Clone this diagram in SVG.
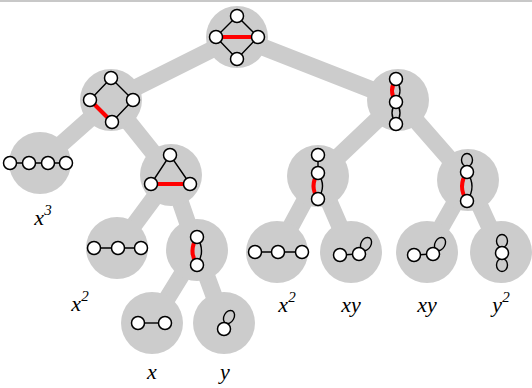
<svg xmlns="http://www.w3.org/2000/svg" width="532" height="388" viewBox="0 0 532 388">
<style>
.bg{fill:#cccccc}
.c{stroke:#cccccc;stroke-width:17;stroke-linecap:round;fill:none}
.e{stroke:#000;stroke-width:1.4;fill:none}
.r{stroke:#ff0000;stroke-width:4;fill:none}
.v{fill:#fff;stroke:#000;stroke-width:1.5}
.lb{font-family:"Liberation Serif","Times New Roman",serif;font-style:italic;font-size:22px;text-anchor:middle;fill:#000}
.sp{font-size:15px}
</style>
<rect x="0" y="0" width="532" height="388" fill="#fff"/>
<rect x="0" y="0" width="532" height="2" fill="#c8c8c8"/>
<g id="connectors">
<line class="c" x1="237" y1="37" x2="111" y2="100"/>
<line class="c" x1="237" y1="37" x2="398" y2="100"/>
<line class="c" x1="111" y1="100" x2="40" y2="163"/>
<line class="c" x1="111" y1="100" x2="171" y2="175"/>
<line class="c" x1="171" y1="175" x2="117" y2="248"/>
<line class="c" x1="171" y1="175" x2="197" y2="250"/>
<line class="c" x1="197" y1="250" x2="152" y2="323"/>
<line class="c" x1="197" y1="250" x2="224" y2="323"/>
<line class="c" x1="398" y1="100" x2="318" y2="176"/>
<line class="c" x1="398" y1="100" x2="468" y2="180"/>
<line class="c" x1="318" y1="176" x2="277" y2="252"/>
<line class="c" x1="318" y1="176" x2="351" y2="252"/>
<line class="c" x1="468" y1="180" x2="427" y2="252"/>
<line class="c" x1="468" y1="180" x2="501" y2="252"/>
</g>
<g id="root">
<circle class="bg" cx="237" cy="37" r="31"/>
<path class="e" d="M237,16 L216,37 L237,59 L258,37 Z"/>
<line class="r" x1="216" y1="37" x2="258" y2="37"/>
<circle class="v" cx="237" cy="16" r="6.5"/><circle class="v" cx="216" cy="37" r="6.5"/><circle class="v" cx="258" cy="37" r="6.5"/><circle class="v" cx="237" cy="59" r="6.5"/>
</g>
<g id="nodeA">
<circle class="bg" cx="111" cy="100" r="31"/>
<path class="e" d="M90,100 L111,78 L133,100 L112,122"/>
<line class="r" x1="90" y1="100" x2="112" y2="122"/>
<circle class="v" cx="111" cy="78" r="6.5"/><circle class="v" cx="90" cy="100" r="6.5"/><circle class="v" cx="133" cy="100" r="6.5"/><circle class="v" cx="112" cy="122" r="6.5"/>
</g>
<g id="nodeB">
<circle class="bg" cx="398" cy="100" r="31"/>
<path class="r" d="M396,79 Q388,90.5 396,102"/>
<path class="e" d="M396,79 Q404,90.5 396,102"/>
<path class="e" d="M396,102 Q388,113 396,124 Q404,113 396,102"/>
<circle class="v" cx="396" cy="79" r="6.5"/><circle class="v" cx="396" cy="102" r="6.5"/><circle class="v" cx="396" cy="124" r="6.5"/>
</g>
<g id="leafX3">
<circle class="bg" cx="40" cy="163" r="31"/>
<line class="e" x1="10" y1="163" x2="66" y2="163"/>
<circle class="v" cx="10" cy="163" r="6.5"/><circle class="v" cx="29" cy="163" r="6.5"/><circle class="v" cx="48" cy="163" r="6.5"/><circle class="v" cx="66" cy="163" r="6.5"/>
<text class="lb" x="43" y="225">x<tspan class="sp" dy="-10">3</tspan></text>
</g>
<g id="nodeC">
<circle class="bg" cx="171" cy="175" r="31"/>
<path class="e" d="M151,184 L170,155 L190,184"/>
<line class="r" x1="151" y1="184" x2="190" y2="184"/>
<circle class="v" cx="170" cy="155" r="6.5"/><circle class="v" cx="151" cy="184" r="6.5"/><circle class="v" cx="190" cy="184" r="6.5"/>
</g>
<g id="nodeD">
<circle class="bg" cx="318" cy="176" r="31"/>
<line class="e" x1="318" y1="155" x2="318" y2="173"/>
<path class="r" d="M318,173 Q309,186 318,199"/>
<path class="e" d="M318,173 Q327,186 318,199"/>
<circle class="v" cx="318" cy="155" r="6.5"/><circle class="v" cx="318" cy="173" r="6.5"/><circle class="v" cx="318" cy="199" r="6.5"/>
</g>
<g id="nodeE">
<circle class="bg" cx="468" cy="180" r="31"/>
<ellipse class="e" cx="467" cy="160" rx="5.5" ry="6.5"/>
<path class="r" d="M467,172 Q457,186.5 467,201"/>
<path class="e" d="M467,172 Q477,186.5 467,201"/>
<circle class="v" cx="467" cy="172" r="6.5"/><circle class="v" cx="467" cy="201" r="6.5"/>
</g>
<g id="leafX2a">
<circle class="bg" cx="117" cy="248" r="31"/>
<line class="e" x1="94" y1="248" x2="141" y2="248"/>
<circle class="v" cx="94" cy="248" r="6.5"/><circle class="v" cx="118" cy="248" r="6.5"/><circle class="v" cx="141" cy="248" r="6.5"/>
<text class="lb" x="80" y="311">x<tspan class="sp" dy="-10">2</tspan></text>
</g>
<g id="nodeF">
<circle class="bg" cx="197" cy="250" r="31"/>
<path class="r" d="M197,237 Q188,251 197,265"/>
<path class="e" d="M197,237 Q206,251 197,265"/>
<circle class="v" cx="197" cy="237" r="6.5"/><circle class="v" cx="197" cy="265" r="6.5"/>
</g>
<g id="leafX2b">
<circle class="bg" cx="277" cy="252" r="31"/>
<line class="e" x1="255" y1="252" x2="302" y2="252"/>
<circle class="v" cx="255" cy="252" r="6.5"/><circle class="v" cx="278" cy="252" r="6.5"/><circle class="v" cx="302" cy="252" r="6.5"/>
<text class="lb" x="287" y="312">x<tspan class="sp" dy="-10">2</tspan></text>
</g>
<g id="leafXY1">
<circle class="bg" cx="351" cy="252" r="31"/>
<line class="e" x1="340" y1="255" x2="359" y2="254"/>
<ellipse class="e" cx="366" cy="244" rx="5" ry="7" transform="rotate(30 366 244)"/>
<circle class="v" cx="340" cy="255" r="6.5"/><circle class="v" cx="359" cy="254" r="6.5"/>
<text class="lb" x="351" y="312">xy</text>
</g>
<g id="leafXY2">
<circle class="bg" cx="427" cy="252" r="31"/>
<line class="e" x1="414" y1="255" x2="433" y2="254"/>
<ellipse class="e" cx="440" cy="244" rx="5" ry="7" transform="rotate(30 440 244)"/>
<circle class="v" cx="414" cy="255" r="6.5"/><circle class="v" cx="433" cy="254" r="6.5"/>
<text class="lb" x="427" y="312">xy</text>
</g>
<g id="leafY2">
<circle class="bg" cx="501" cy="252" r="31"/>
<ellipse class="e" cx="502" cy="241" rx="5.5" ry="6.5"/>
<ellipse class="e" cx="502" cy="265" rx="5.5" ry="6.5"/>
<circle class="v" cx="502" cy="253" r="6.5"/>
<text class="lb" x="501" y="312">y<tspan class="sp" dy="-10">2</tspan></text>
</g>
<g id="leafX">
<circle class="bg" cx="152" cy="323" r="31"/>
<line class="e" x1="138" y1="323" x2="165" y2="323"/>
<circle class="v" cx="138" cy="323" r="6.5"/><circle class="v" cx="165" cy="323" r="6.5"/>
<text class="lb" x="152" y="379">x</text>
</g>
<g id="leafY">
<circle class="bg" cx="224" cy="323" r="31"/>
<ellipse class="e" cx="229" cy="317" rx="5" ry="7" transform="rotate(30 229 317)"/>
<circle class="v" cx="224" cy="329" r="6.5"/>
<text class="lb" x="225" y="379">y</text>
</g>
</svg>
